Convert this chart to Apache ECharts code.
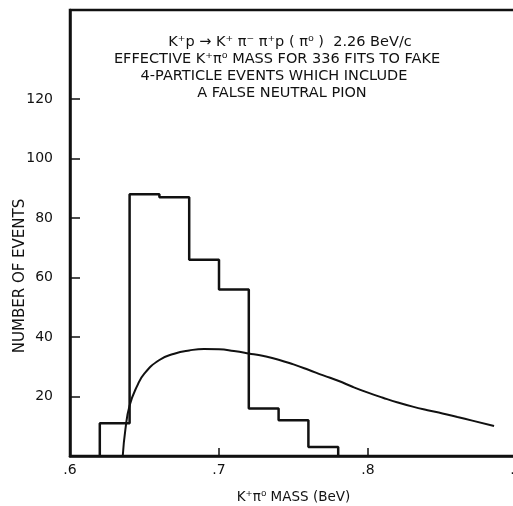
<!DOCTYPE html>
<html>
<head>
<meta charset="utf-8">
<script src="https://cdn.jsdelivr.net/npm/echarts@6/dist/echarts.min.js"></script>
<style>html,body{margin:0;padding:0;background:#fff}#c{width:513px;height:506px}</style>
</head>
<body>
<div id="c"></div>
<script>
// Histogram: bin left edges (BeV) and counts
const binEdges = [0.62, 0.64, 0.66, 0.68, 0.70, 0.72, 0.74, 0.76, 0.78];
const binCounts = [11, 88, 87, 66, 56, 16, 12, 3];
// Phase-space curve
const curveX = [0.6354, 0.6372, 0.64, 0.645, 0.65, 0.66, 0.67, 0.68, 0.69, 0.70, 0.71, 0.72, 0.73, 0.74, 0.75, 0.76, 0.77, 0.78, 0.79, 0.80, 0.81, 0.82, 0.83, 0.84, 0.85, 0.86, 0.87, 0.8846];
const curveY = [0, 9, 17, 23.5, 27.8, 32.3, 34.4, 35.5, 36.0, 35.9, 35.3, 34.5, 33.6, 32.4, 30.8, 29.0, 27.1, 25.3, 23.2, 21.3, 19.6, 18.0, 16.6, 15.4, 14.3, 13.1, 11.9, 10.1];
const yTicks = [20, 40, 60, 80, 100, 120];
const xTicks = [0.7, 0.8];
const xLabels = [0.6, 0.7, 0.8, 0.9];
const titleLines = [
  'K\u207Ap \u2192 K\u207A \u03C0\u207B \u03C0\u207Ap ( \u03C0\u2070 )  2.26 BeV/c',
  'EFFECTIVE K\u207A\u03C0\u2070 MASS FOR 336 FITS TO FAKE',
  '4-PARTICLE EVENTS WHICH INCLUDE',
  'A FALSE NEUTRAL PION'
];
const xName = 'K\u207A\u03C0\u2070 MASS (BeV)';
const yName = 'NUMBER OF EVENTS';

const histData = [[binEdges[0], 0]];
binCounts.forEach((c, i) => histData.push([binEdges[i], c]));
histData.push([binEdges[binEdges.length - 1], 0]);
const curveData = curveX.map((x, i) => [x, curveY[i]]);

const FONT = 'DejaVu Sans';
const chart = echarts.init(document.getElementById('c'), null, {renderer: 'canvas'});
const titleX = [290, 277, 274, 282];
const titleY = [42, 59, 76, 93];
chart.setOption({
  animation: false,
  backgroundColor: '#fff',
  grid: {left: 70, top: 10, right: -4, bottom: 50, outerBoundsMode: 'none', containLabel: false,
    show: true, borderColor: '#111', borderWidth: 2.5, backgroundColor: 'transparent'},
  xAxis: {
    type: 'value', min: 0.6, max: 0.9, interval: 0.1,
    name: xName, nameLocation: 'middle', nameGap: 34,
    nameTextStyle: {fontFamily: FONT, fontSize: 13.5, color: '#111'},
    axisLine: {lineStyle: {color: '#111', width: 2.5}},
    axisTick: {inside: true, length: 8, lineStyle: {color: '#111', width: 1.5}, customValues: xTicks},
    axisLabel: {customValues: xLabels, margin: 7, fontFamily: FONT, fontSize: 14, color: '#111',
      formatter: v => v.toFixed(1).replace(/^0/, '')},
    splitLine: {show: false}
  },
  yAxis: {
    type: 'value', min: 0, max: 150, interval: 10,
    axisLine: {show: true, lineStyle: {color: '#111', width: 2.5}},
    axisTick: {inside: true, length: 10, lineStyle: {color: '#111', width: 1.5}, customValues: yTicks},
    axisLabel: {customValues: yTicks, margin: 17, fontFamily: FONT, fontSize: 14, color: '#111'},
    splitLine: {show: false}
  },
  graphic: titleLines.map((t, i) => ({
    type: 'text', x: titleX[i], y: titleY[i],
    style: {text: t, fontFamily: FONT, fontSize: 14.5, fill: '#111', align: 'center', verticalAlign: 'middle'}
  })).concat([{
    type: 'text', x: 20, y: 276, rotation: Math.PI / 2,
    style: {text: yName, fontFamily: FONT, fontSize: 15, fill: '#111', align: 'center', verticalAlign: 'middle'}
  }]),
  series: [
    {type: 'line', data: histData, step: 'end', symbol: 'none', lineStyle: {color: '#111', width: 2.5}},
    {type: 'line', data: curveData, smooth: 0.5, symbol: 'none', lineStyle: {color: '#111', width: 2}}
  ]
});
</script>
</body>
</html>
